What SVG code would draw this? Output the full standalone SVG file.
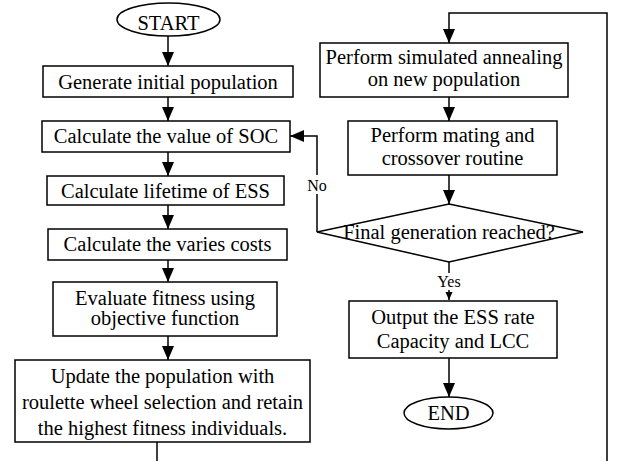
<svg xmlns="http://www.w3.org/2000/svg" width="617" height="461" viewBox="0 0 617 461">
<defs>
<marker id="ah" markerUnits="userSpaceOnUse" markerWidth="14" markerHeight="12" refX="14" refY="6" orient="auto">
<path d="M0,0 L14,6 L0,12 z" fill="#000"/>
</marker>
<marker id="ahs" markerUnits="userSpaceOnUse" markerWidth="8" markerHeight="8" refX="8" refY="3.5" orient="auto">
<path d="M0,0 L8,3.5 L0,7 z" fill="#000"/>
</marker>
</defs>
<style>
.box{fill:#fff;stroke:#000;stroke-width:1.5}
.t{font-family:"Liberation Serif","Times New Roman",serif;font-size:20.5px;text-anchor:middle;fill:#000}
.s{font-family:"Liberation Serif","Times New Roman",serif;font-size:16px;text-anchor:middle;fill:#000}
.c{fill:none;stroke:#000;stroke-width:1.5}
.a{marker-end:url(#ah)}
</style>
<rect width="617" height="461" fill="#fff"/>
<g id="connectors">
<path class="c a" d="M168,36 V66"/>
<path class="c a" d="M168,97 V121"/>
<path class="c a" d="M168,152 V176"/>
<path class="c a" d="M168,205 V229"/>
<path class="c a" d="M168,260 V282"/>
<path class="c a" d="M168,336 V360"/>
<path class="c a" d="M157,442 V463 H607 V13 H449 V43"/>
<path class="c a" d="M449,97 V121"/>
<path class="c a" d="M449,175 V204"/>
<path class="c" d="M449,262 V300" style="marker-end:url(#ahs)"/>
<path class="c a" d="M449,358 V397"/>
<path class="c a" d="M317,232 V136 H290"/>
<rect x="305" y="175" width="24" height="19" fill="#fff"/>
<text class="s" x="317" y="191">No</text>
<rect x="435" y="273" width="28" height="17" fill="#fff"/>
<text class="s" x="449" y="287">Yes</text>
</g>
<g id="start">
<ellipse class="box" cx="168.5" cy="19.5" rx="51.5" ry="16.5"/>
<text class="t" x="168.5" y="30">START</text>
</g>
<g id="generate">
<rect class="box" x="43" y="66" width="250" height="31"/>
<text class="t" x="168" y="89">Generate initial population</text>
</g>
<g id="soc">
<rect class="box" x="42" y="121" width="248" height="31"/>
<text class="t" x="166" y="143">Calculate the value of SOC</text>
</g>
<g id="lifetime">
<rect class="box" x="47" y="176" width="237" height="29"/>
<text class="t" x="165.5" y="198">Calculate lifetime of ESS</text>
</g>
<g id="costs">
<rect class="box" x="48" y="229" width="239" height="31"/>
<text class="t" x="167.5" y="251">Calculate the varies costs</text>
</g>
<g id="evaluate">
<rect class="box" x="53" y="282" width="224" height="54"/>
<text class="t" x="165" y="305">Evaluate fitness using</text>
<text class="t" x="165" y="325">objective function</text>
</g>
<g id="update">
<rect class="box" x="15" y="360" width="295" height="82"/>
<text class="t" x="162.5" y="383">Update the population with</text>
<text class="t" x="162.5" y="409">roulette wheel selection and retain</text>
<text class="t" x="162.5" y="435">the highest fitness individuals.</text>
</g>
<g id="annealing">
<rect class="box" x="320" y="43" width="248" height="54"/>
<text class="t" x="444" y="64">Perform simulated annealing</text>
<text class="t" x="444" y="86">on new population</text>
</g>
<g id="mating">
<rect class="box" x="348" y="121" width="209" height="54"/>
<text class="t" x="452.5" y="142">Perform mating and</text>
<text class="t" x="452.5" y="165">crossover routine</text>
</g>
<g id="decision">
<polygon class="box" points="449,204 583,232 449,262 317,232"/>
<text class="t" x="449" y="239">Final generation reached?</text>
</g>
<g id="output">
<rect class="box" x="349" y="301" width="208" height="57"/>
<text class="t" x="453" y="324">Output the ESS rate</text>
<text class="t" x="453" y="348">Capacity and LCC</text>
</g>
<g id="end">
<ellipse class="box" cx="448.5" cy="413" rx="44.5" ry="16"/>
<text class="t" x="448.5" y="420">END</text>
</g>
</svg>
